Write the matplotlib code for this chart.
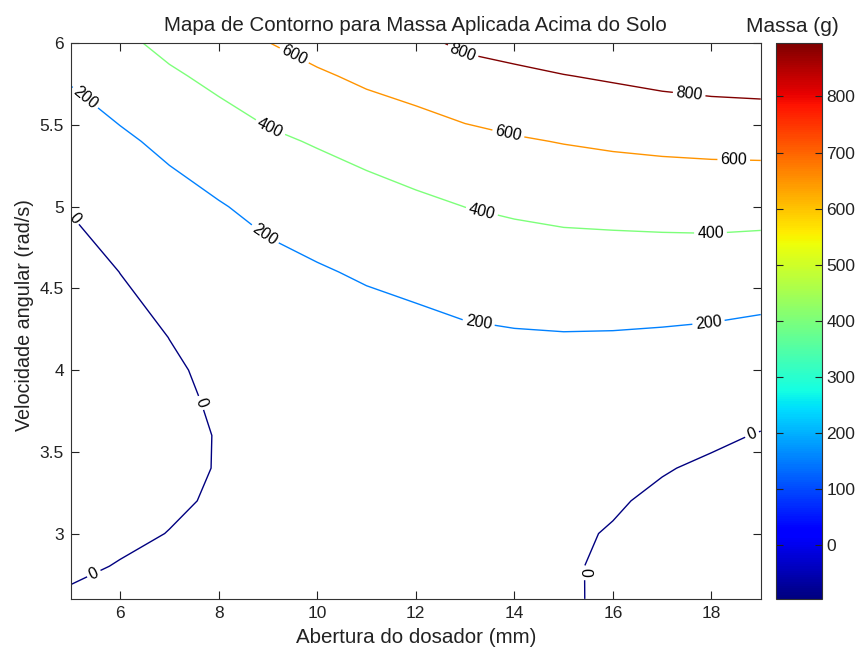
import numpy as np
import matplotlib
matplotlib.use('Agg')
import matplotlib.pyplot as plt
from matplotlib.colors import Normalize
from matplotlib.cm import ScalarMappable
from matplotlib.ticker import FormatStrFormatter

plt.rcParams['font.family'] = ['Liberation Sans', 'DejaVu Sans']

# abertura do dosador (mm) e velocidade angular (rad/s)
x_mm = [5, 6, 7, 8, 9, 10, 11, 12, 13, 14, 15, 16, 17, 18, 19]
y_rad = [2.6, 2.8, 3.0, 3.2, 3.4, 3.6, 3.8, 4.0, 4.2, 4.6, 5.0, 5.4, 5.8, 6.0]

# massa aplicada (g), uma linha por velocidade
m_26 = [14, 35, 49, 62, 62, 64, 60, 50, 40, 28, 15, -20, -59, -85, -95]
m_28 = [-18, 5, 23, 39, 40, 42, 41, 36, 30, 23, 14, -19, -53, -79, -89]
m_30 = [-45, -19, 2, 21, 26, 31, 31, 29, 25, 22, 17, -7, -39, -69, -80]
m_32 = [-67, -37, -13, 10, 18, 25, 28, 30, 29, 30, 27, 11, -19, -45, -66]
m_34 = [-82, -49, -22, 4, 14, 25, 32, 37, 42, 45, 42, 33, 7, -17, -45]
m_36 = [-91, -56, -25, 4, 18, 33, 44, 53, 62, 68, 66, 62, 41, 19, -6]
m_38 = [-95, -56, -22, 12, 29, 48, 64, 77, 91, 99, 97, 97, 80, 62, 39]
m_40 = [-93, -51, -14, 22, 47, 71, 92, 109, 129, 138, 140, 140, 127, 112, 92]
m_42 = [-85, -40, 1, 39, 73, 101, 128, 149, 174, 185, 190, 188, 180, 169, 151]
m_46 = [-51, 1, 51, 97, 147, 185, 219, 246, 275, 293, 305, 304, 307, 304, 291]
m_50 = [7, 68, 131, 188, 247, 285, 323, 363, 401, 425, 444, 454, 460, 466, 462]
m_54 = [95, 170, 240, 308, 369, 414, 462, 507, 551, 583, 607, 627, 642, 651, 657]
m_58 = [219, 295, 375, 442, 514, 575, 635, 678, 731, 764, 795, 820, 848, 868, 878]
m_60 = [295, 360, 445, 514, 596, 668, 735, 756, 831, 863, 898, 926, 961, 987, 1000]

niveis = [0, 200, 400, 600, 800]
cbar_lim = [-97, 895]
cbar_ticks = [0, 100, 200, 300, 400, 500, 600, 700, 800]

massa = np.array([m_26, m_28, m_30, m_32, m_34, m_36, m_38, m_40,
                  m_42, m_46, m_50, m_54, m_58, m_60])

# onde ficam os rotulos das curvas
pos_rotulos = [(5.08, 4.93), (7.65, 3.80), (5.49, 2.74), (15.49, 2.76), (18.83, 3.60),
               (5.25, 5.65), (8.94, 4.83), (13.27, 4.28), (17.94, 4.29),
               (9.04, 5.48), (13.34, 4.97), (17.98, 4.84),
               (9.49, 5.90), (13.88, 5.45), (18.45, 5.27),
               (12.94, 5.94), (17.54, 5.67)]

fig = plt.figure(figsize=(8.55, 6.49), dpi=100)
ax = fig.add_axes([0.0828, 0.0772, 0.8070, 0.8561])
cax = fig.add_axes([0.9073, 0.0772, 0.0538, 0.8561])

cs = ax.contour(x_mm, y_rad, massa, levels=niveis, cmap='jet', vmin=0, vmax=800, linewidths=1)
ax.clabel(cs, fmt='%d', colors='k', fontsize=11.5, manual=pos_rotulos, inline=True, inline_spacing=3)

ax.set_xlim(5, 19)
ax.set_ylim(2.6, 6)
ax.set_xticks([6, 8, 10, 12, 14, 16, 18])
ax.set_yticks([3, 3.5, 4, 4.5, 5, 5.5, 6])
ax.yaxis.set_major_formatter(FormatStrFormatter('%g'))
ax.tick_params(direction='in', length=6, top=True, right=True, labelsize=12.5, colors='#222222', pad=5)
for s in ax.spines.values():
    s.set_color('#333333')

ax.set_title('Mapa de Contorno para Massa Aplicada Acima do Solo', fontsize=14.8, pad=9, color='#222222')
ax.set_xlabel('Abertura do dosador (mm)', fontsize=14.8, labelpad=5, color='#222222')
ax.set_ylabel('Velocidade angular (rad/s)', fontsize=14.2, color='#222222')
ax.yaxis.set_label_coords(-0.053, 0.511)

sm = ScalarMappable(norm=Normalize(cbar_lim[0], cbar_lim[1]), cmap='jet')
cb = fig.colorbar(sm, cax=cax, ticks=cbar_ticks)
cax.tick_params(direction='in', length=5, left=True, right=True, labelsize=12.5, colors='#222222')
cb.outline.set_edgecolor('#333333')
fig.text(0.927, 1 - 32 / 649, 'Massa (g)', ha='center', va='baseline', fontsize=15, color='#222222')

fig.savefig('out.png', dpi=100)
